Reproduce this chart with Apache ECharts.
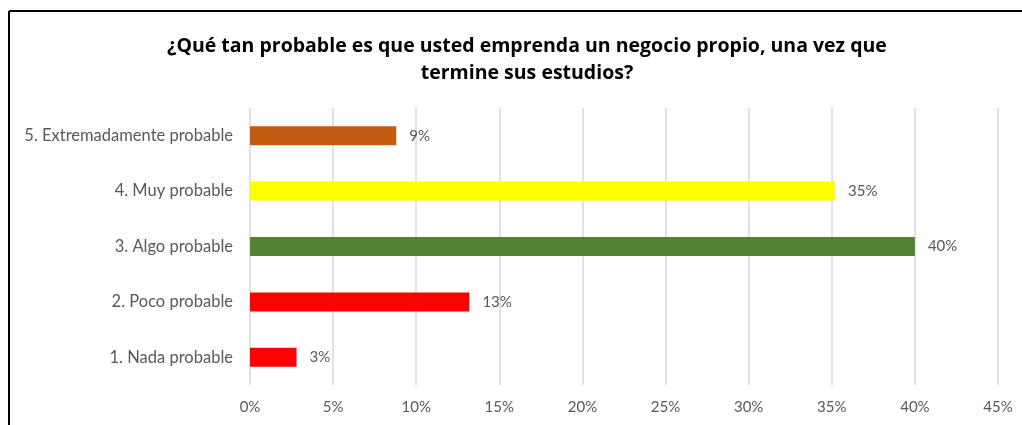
<!DOCTYPE html>
<html>
<head>
<meta charset="utf-8">
<script src="https://cdn.jsdelivr.net/npm/echarts@6/dist/echarts.min.js"></script>
<style>
  html, body { margin: 0; padding: 0; background: #fff; }
  #chart { width: 1022px; height: 425px; }
</style>
</head>
<body>
<div id="chart"></div>
<script>
// categories bottom -> top (ECharts category y axis starts at the bottom)
var categories = ['1. Nada probable', '2. Poco probable', '3. Algo probable', '4. Muy probable', '5. Extremadamente probable']
var shares = [2.8, 13.2, 40, 35.2, 8.8]
var barColors = ['#FF0000', '#FF0000', '#548235', '#FFFF00', '#C55A11']
var titleText = '¿Qué tan probable es que usted emprenda un negocio propio, una vez que\ntermine sus estudios?'

var chart = echarts.init(document.getElementById('chart'))
chart.setOption({
  animation: false,
  textStyle: { fontFamily: 'Lato' },
  title: {
    text: titleText,
    left: 522,
    top: 28,
    textAlign: 'center',
    textStyle: { fontSize: 19.5, fontWeight: 'bold', color: '#000', lineHeight: 27, fontFamily: 'Open Sans' }
  },
  graphic: [
    { type: 'line', shape: { x1: 9, y1: 11, x2: 1022, y2: 11 }, style: { stroke: '#000', lineWidth: 2 } },
    { type: 'line', shape: { x1: 9, y1: 11, x2: 9, y2: 425 }, style: { stroke: '#000', lineWidth: 2 } }
  ],
  grid: { left: 250, right: 24, top: 108, bottom: 40 },
  xAxis: {
    type: 'value',
    min: 0,
    max: 45,
    interval: 5,
    axisLine: { show: false },
    axisTick: { show: false },
    splitLine: { lineStyle: { color: '#D9D9D9', width: 1.5 } },
    axisLabel: { color: '#595959', fontSize: 15, margin: 15, formatter: '{value}%' }
  },
  yAxis: {
    type: 'category',
    data: categories,
    axisLine: { show: false },
    axisTick: { show: false },
    axisLabel: { color: '#595959', fontSize: 16.5, margin: 17 }
  },
  series: [{
    type: 'bar',
    barWidth: 19,
    data: shares.map(function (v, i) {
      return { value: v, itemStyle: { color: barColors[i] } }
    }),
    label: {
      show: true,
      position: 'right',
      distance: 13,
      color: '#595959',
      fontSize: 15,
      formatter: function (p) { return Math.round(p.value) + '%' }
    }
  }]
})
</script>
</body>
</html>
